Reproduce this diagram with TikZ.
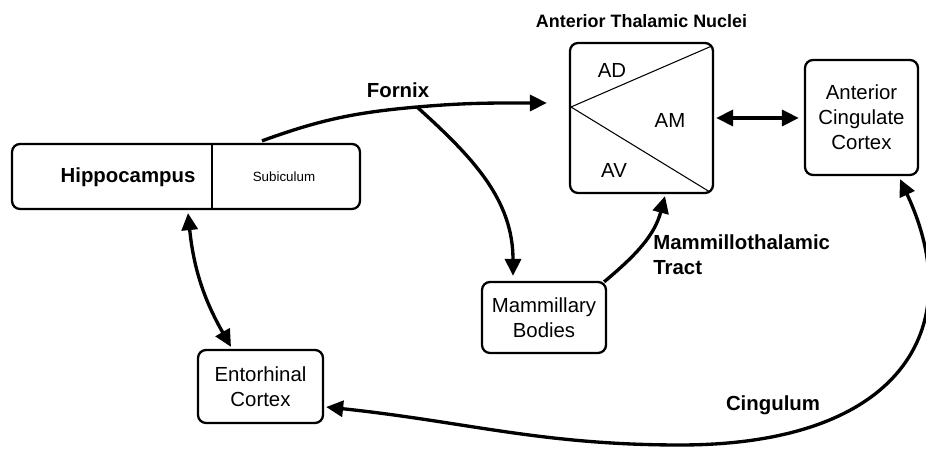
\documentclass[tikz,border=0pt]{standalone}
\usepackage{fontspec}
\setmainfont{Liberation Sans}
\usetikzlibrary{arrows.meta,positioning}

\begin{document}
\begin{tikzpicture}[line join=round,x=0.02cm,y=0.02cm,>={Triangle[length=0.34cm,width=0.32cm]},
  font=\fontsize{11.6}{14.2}\selectfont,
  box/.style={draw,line width=1.3pt,rounded corners=0.16cm,align=center,inner sep=0pt},
  tract/.style={line width=1.9pt},
  thin/.style={line width=0.6pt},
  lbl/.style={font=\fontsize{11.6}{14.2}\selectfont\bfseries,inner sep=0pt}]
\useasboundingbox (0,0) rectangle (926,449);
% boxes
\node[box,minimum width=6.96cm,minimum height=1.3cm] (hip) at (186,272.5) {};
\node[lbl] (hiptxt) at (128,272) {Hippocampus};
\node[inner sep=0pt,font=\fontsize{7.6}{9}\selectfont] (sub) at (284,272) {Subiculum};
\coordinate (div) at (212,272);
\draw[thin] (div |- hip.north) -- (div |- hip.south);
\node[box,minimum width=2.86cm,minimum height=3cm] (atn) at (641.5,331) {};
\node[lbl,font=\fontsize{10.2}{12}\selectfont\bfseries,above=0.28cm of atn] (atntitle) {Anterior Thalamic Nuclei};
\coordinate (apex) at (571,342);
\draw[thin] ([shift={(-2,-4)}]atn.north east) -- (apex) -- ([shift={(-4,2)}]atn.south east);
\node (ad) at (612,379) {AD};
\node (am) at (670,329) {AM};
\node (av) at (614,279) {AV};
\node[box,minimum width=2.26cm,minimum height=2.3cm] (acc) at (861.5,331.5) {Anterior\\Cingulate\\Cortex};
\node[box,minimum width=2.48cm,minimum height=1.42cm] (mb) at (544,131.5) {Mammillary\\Bodies};
\node[box,minimum width=2.5cm,minimum height=1.46cm] (ec) at (260.5,62.5) {Entorhinal\\Cortex};
% tracts
\coordinate (fx) at (417,342);
\coordinate (cg) at (680,4);
\draw[tract,->] ([shift={(76,2)}]hip.north) to[out=20,in=185] (fx) to[out=5,in=180] ([shift={(-22,15)}]atn.west);
\node[lbl] (fornix) at (398,359) {Fornix};
\draw[tract,->] (fx) to[out=-42,in=90] ([shift={(-31,5)}]mb.north);
\draw[tract,->] ([shift={(-3,-1)}]mb.north east) to[out=40,in=-105] ([shift={(23.5,-2)}]atn.south);
\node[lbl,align=left,anchor=west] (mtt) at (653,194) {Mammillothalamic\\Tract};
\draw[tract,<->] ([shift={(2,0)}]atn.east) -- ([shift={(-5,0)}]atn.east -| acc.west);
\draw[tract,<->] ([shift={(2,-3)}]hip.south) to[bend right=12] ([shift={(-29.5,2)}]ec.north);
\draw[tract,<->] ([shift={(2,-20.5)}]ec.east) to[out=-6,in=180] (cg) .. controls (900,4) and (970,120) .. ([shift={(38.5,-3)}]acc.south);
\node[lbl] (cing) at (773,44) {Cingulum};
\end{tikzpicture}
\end{document}
